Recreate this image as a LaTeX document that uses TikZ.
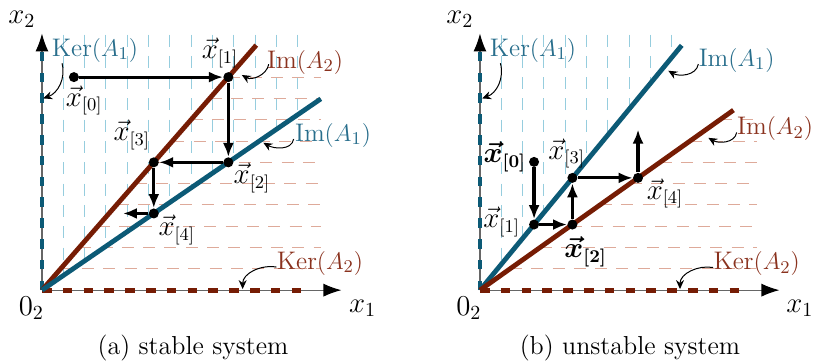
\documentclass[tikz,border=0pt]{standalone}
\usepackage{amsmath}
\usetikzlibrary{arrows.meta}
\definecolor{imblue}{RGB}{12,90,118}
\definecolor{imred}{RGB}{118,28,4}
\definecolor{kerblue}{RGB}{40,110,140}
\definecolor{kerred}{RGB}{138,50,30}
\definecolor{gridblue}{RGB}{150,205,222}
\definecolor{gridred}{RGB}{222,170,154}
\tikzset{
  lab/.style={inner sep=0pt, font=\fontsize{12.7}{15}\selectfont},
  vlab/.style={inner sep=0pt, font=\fontsize{13.5}{16}\selectfont},
  alab/.style={inner sep=0pt, font=\fontsize{14}{16}\selectfont},
  axisline/.style={black!60, line width=0.6pt, -{Latex[length=9pt,width=6.5pt,color=black]}},
  vgrid/.style={gridblue, line width=0.5pt, dash pattern=on 6pt off 4.65pt},
  hgrid/.style={gridred, line width=0.5pt, dash pattern=on 6pt off 4.65pt},
  kerline/.style={line width=2.4pt, dash pattern=on 4.8pt off 5.6pt},
  imline/.style={line width=2.4pt},
  iter/.style={line width=1.6pt, -{Latex[length=7pt,width=5.5pt]}},
  note/.style={line width=0.5pt, -{Stealth[length=4.5pt,width=4pt]}},
  dot/.style={circle, fill=black, inner sep=0pt, minimum size=5pt},
}
\begin{document}
\begin{tikzpicture}[x=0.3743cm, y=0.3743cm]
  \useasboundingbox (-1.97,-3.38) rectangle (36.24,13.62);
  % (a) stable system
  \begin{scope}
    \foreach \i in {1,...,12} \draw[vgrid] (\i,12) -- (\i,{0.686*\i});
    \foreach \j in {1,...,10} \draw[hgrid] ({\j/1.143},\j) -- (13.1,\j);
    \coordinate (aO) at (0,0);
    \draw[axisline] (aO) -- (0,12.05);
    \draw[axisline] (aO) -- (14.06,0);
    \draw[kerline, imblue] (aO) -- (0,11.3);
    \draw[kerline, imred] (aO) -- (12.45,0);
    \draw[imline, imred] (aO) -- (10.06,11.5);
    \draw[imline, imblue] (aO) -- (13.09,8.98);
    \node[alab] (ax2) at (-0.94,12.7) {$x_2$};
    \node[alab] (ax1) at (15.05,-0.85) {$x_1$};
    \node[alab] (azero) at (-0.5,-0.85) {$0_2$};
    % kernels and images
    \node[lab, text=kerblue] (akerA) at (2.49,11.27) {Ker$(A_1)$};
    \node[lab, text=kerred] (aimB) at (12.35,10.7) {Im$(A_2)$};
    \node[lab, text=kerblue] (aimA) at (13.66,7.28) {Im$(A_1)$};
    \node[lab, text=kerred] (akerB) at (13.05,1.27) {Ker$(A_2)$};
    \coordinate (akerAp) at (0.06,9.0);
    \coordinate (aimBp) at (9.38,10.1);
    \coordinate (aimAp) at (10.39,6.92);
    \coordinate (akerBp) at (9.42,0.05);
    \draw[note] (0.94,10.65) to[out=-75,in=20] (akerAp);
    \draw[note] ([xshift=1pt,yshift=-1pt]aimB.west) to[out=-100,in=-30] (aimBp);
    \draw[note] ([xshift=-0.5pt,yshift=-2pt]aimA.west) to[out=-100,in=-30] (aimAp);
    \draw[note] ([yshift=-2pt]akerB.west) to[out=170,in=90] (akerBp);
    % iterates
    \node[dot] (a0) at (1.5,10) {};
    \node[dot] (a1) at (8.75,10) {};
    \node[dot] (a2) at (8.75,6) {};
    \node[dot] (a3) at (5.25,6) {};
    \node[dot] (a4) at (5.25,3.6) {};
    \coordinate (a5) at (3.8,3.6);
    \draw[iter] (a0) -- (a1);
    \draw[iter] (a1) -- (a2);
    \draw[iter] (a2) -- (a3);
    \draw[iter] (a3) -- (a4);
    \draw[iter] (a4) -- (a5);
    \node[vlab] (la0) at (1.98,8.9) {$\vec{x}_{[0]}$};
    \node[vlab] (la1) at (8.36,11.13) {$\vec{x}_{[1]}$};
    \node[vlab] (la2) at (9.86,5.26) {$\vec{x}_{[2]}$};
    \node[vlab] (la3) at (4.22,7.28) {$\vec{x}_{[3]}$};
    \node[vlab] (la4) at (6.33,2.82) {$\vec{x}_{[4]}$};
    \node[lab, font=\fontsize{13}{15}\selectfont] (capa) at (7.09,-2.72) {(a) stable system};
  \end{scope}
  % (b) unstable system
  \begin{scope}[shift={(20.56,0)}]
    \foreach \i in {1,...,9} \draw[vgrid] (\i,12) -- (\i,{1.213*\i});
    \foreach \j in {1,...,8} \draw[hgrid] ({\j/0.71},\j) -- (13,\j);
    \coordinate (bO) at (0,0);
    \draw[axisline] (bO) -- (0,12.05);
    \draw[axisline] (bO) -- (14.06,0);
    \draw[kerline, imblue] (bO) -- (0,11.3);
    \draw[kerline, imred] (bO) -- (12.45,0);
    \draw[imline, imblue] (bO) -- (9.47,11.49);
    \draw[imline, imred] (bO) -- (11.9,8.45);
    \node[alab] (bx2) at (-0.94,12.7) {$x_2$};
    \node[alab] (bx1) at (15.02,-0.85) {$x_1$};
    \node[alab] (bzero) at (-0.52,-0.85) {$0_2$};
    % kernels and images
    \node[lab, text=kerblue] (bkerA) at (2.49,11.27) {Ker$(A_1)$};
    \node[lab, text=kerblue] (bimA) at (12.05,10.8) {Im$(A_1)$};
    \node[lab, text=kerred] (bimB) at (13.85,7.59) {Im$(A_2)$};
    \node[lab, text=kerred] (bkerB) at (12.99,1.25) {Ker$(A_2)$};
    \coordinate (bkerAp) at (0.1,9.0);
    \coordinate (bimAp) at (8.84,10.3);
    \coordinate (bimBp) at (10.72,7.15);
    \coordinate (bkerBp) at (9.39,0.05);
    \draw[note] (0.96,10.65) to[out=-75,in=20] (bkerAp);
    \draw[note] ([yshift=-2pt]bimA.west) to[out=-100,in=-30] (bimAp);
    \draw[note] ([yshift=-2pt]bimB.west) to[out=-100,in=-30] (bimBp);
    \draw[note] ([yshift=-2pt]bkerB.west) to[out=170,in=90] (bkerBp);
    % iterates
    \node[dot] (b0) at (2.54,6.02) {};
    \node[dot] (b1) at (2.54,3.08) {};
    \node[dot] (b2) at (4.34,3.08) {};
    \node[dot] (b3) at (4.34,5.27) {};
    \node[dot] (b4) at (7.42,5.27) {};
    \coordinate (b5) at (7.42,7.54);
    \draw[iter] (b0) -- (b1);
    \draw[iter] (b1) -- (b2);
    \draw[iter] (b2) -- (b3);
    \draw[iter] (b3) -- (b4);
    \draw[iter] (b4) -- (b5);
    \node[vlab] (lb0) at (1.17,6.26) {$\boldsymbol{\vec{x}}_{\boldsymbol{[0]}}$};
    \node[vlab] (lb1) at (1.02,3.2) {$\vec{x}_{[1]}$};
    \node[vlab] (lb2) at (4.96,1.8) {$\boldsymbol{\vec{x}}_{\boldsymbol{[2]}}$};
    \node[vlab] (lb3) at (4.07,6.42) {$\vec{x}_{[3]}$};
    \node[vlab] (lb4) at (8.69,4.54) {$\vec{x}_{[4]}$};
    \node[lab, font=\fontsize{13}{15}\selectfont] (capb) at (7.04,-2.72) {(b) unstable system};
  \end{scope}
\end{tikzpicture}
\end{document}
